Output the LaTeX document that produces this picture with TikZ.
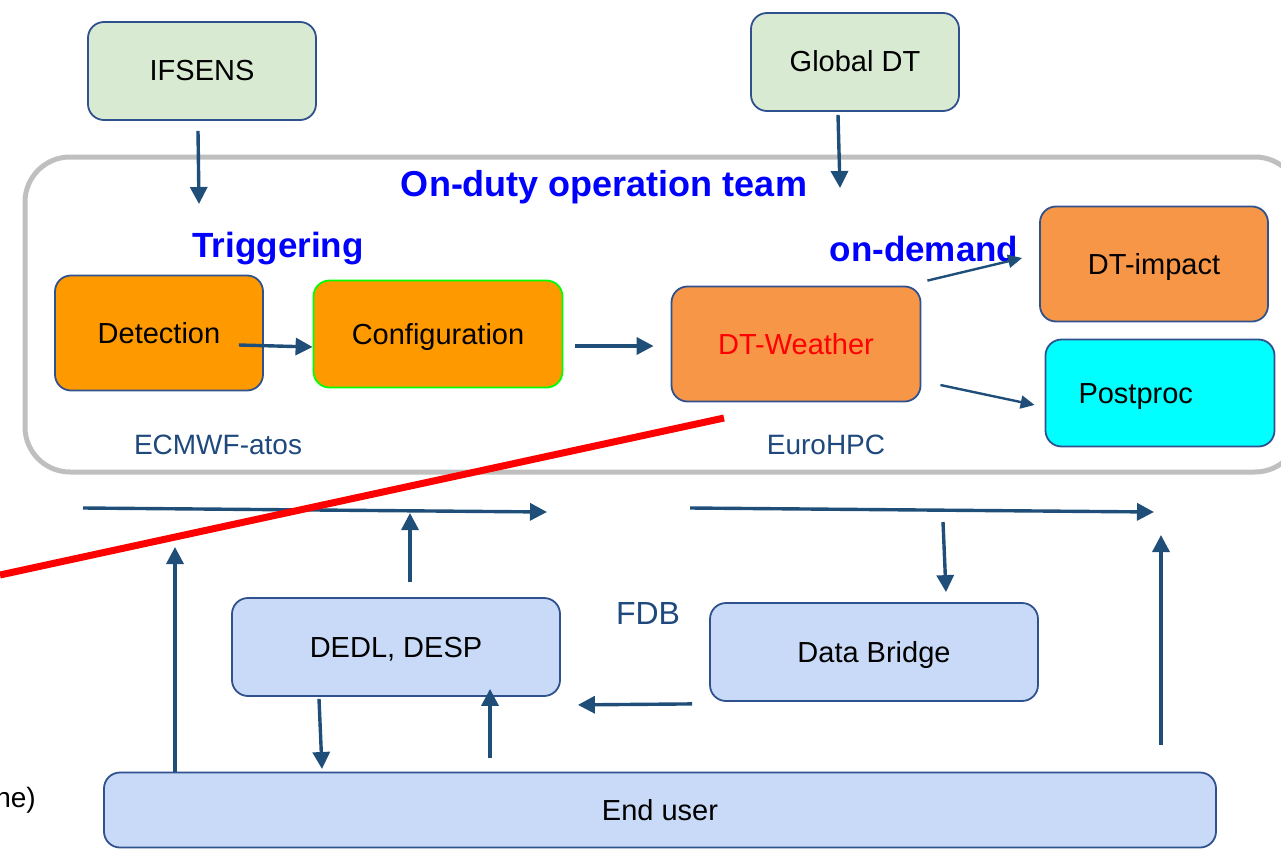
\documentclass[tikz,border=0pt]{standalone}
\usepackage{fontspec}
\setmainfont{Liberation Sans}
\usetikzlibrary{arrows.meta}

\definecolor{boxline}{HTML}{2F528F}
\definecolor{arrowblue}{HTML}{1F4E79}
\definecolor{sitetext}{HTML}{1F497D}
\definecolor{titleblue}{HTML}{0000FF}
\definecolor{framegray}{HTML}{BFBFBF}
\definecolor{srcgreen}{HTML}{D9EAD3}
\definecolor{trigorange}{HTML}{FF9900}
\definecolor{hpcorange}{HTML}{F79646}
\definecolor{ppcyan}{HTML}{00FFFF}
\definecolor{cfggreen}{HTML}{00FF00}
\definecolor{userblue}{HTML}{C9DAF8}

\begin{document}
\begin{tikzpicture}[x=1pt, y=-1pt,
    blk/.style={rectangle, draw=boxline, line width=1.8pt, rounded corners=16pt,
      inner sep=0pt, text height=20pt, text depth=0pt, font=\fontsize{29}{33}\selectfont},
    flow/.style={draw=arrowblue, line width=3.4pt, -{Triangle[length=17pt,width=17pt]}},
    thinflow/.style={draw=arrowblue, line width=2.4pt, -{Triangle[length=14pt,width=13pt]}},
    title/.style={text=titleblue, font=\bfseries\fontsize{35}{40}\selectfont},
    site/.style={text=sitetext, font=\fontsize{28}{32}\selectfont}]
  \useasboundingbox (0,0) rectangle (1281,848);
  \clip (0,0) rectangle (1281,848);

  % operation team frame
  \draw[framegray, line width=5pt, rounded corners=45pt] (25,157) rectangle (1300,472);

  % sources
  \node[blk, fill=srcgreen, minimum width=228pt, minimum height=98pt] (ifs) at (202,71) {IFSENS};
  \node[blk, fill=srcgreen, minimum width=208pt, minimum height=98pt] (gdt) at (855,62) {Global DT};

  % labels
  \node[title, font=\bfseries\fontsize{36}{40}\selectfont] (team) at (604,187) {On-duty operation team};
  \node[title] (trig) at (278,249) {Triggering};
  \node[title] (odem) at (924,249) {on-demand};
  \node[site] (atos) at (218,445) {ECMWF-atos};
  \node[site] (hpc) at (826,445) {EuroHPC};
  \node[site, font=\fontsize{32}{36}\selectfont] (fdb) at (648,613) {FDB};
  \node[anchor=east, inner sep=0pt, font=\fontsize{28}{32}\selectfont] (tail) at (36,800) {ne)};

  % workflow
  \node[blk, fill=trigorange, minimum width=208pt, minimum height=115pt] (det) at (159,333) {Detection};
  \node[blk, fill=trigorange, draw=cfggreen, minimum width=249pt, minimum height=107pt] (conf) at (438,334) {Configuration};
  \node[blk, fill=hpcorange, text=red, minimum width=249pt, minimum height=115pt] (dtw) at (796,344) {DT-Weather};
  \node[blk, fill=hpcorange, minimum width=228pt, minimum height=115pt] (dti) at (1154,264) {DT-impact};
  \node[blk, fill=ppcyan, minimum width=229pt, minimum height=107pt,
    text width=163pt, align=left] (pp) at (1160,393) {Postproc};

  % data side
  \node[blk, fill=userblue, minimum width=328pt, minimum height=98pt] (dedl) at (396,647) {DEDL, DESP};
  \node[blk, fill=userblue, minimum width=328pt, minimum height=98pt] (db) at (874,652) {Data Bridge};
  \node[blk, fill=userblue, minimum width=1112pt, minimum height=75pt] (eu) at (660,810) {End user};

  \coordinate (ifsin) at (199,204);
  \coordinate (gdtin) at (840,188);
  \coordinate (busL) at (83,508);
  \coordinate (busLend) at (547,512);
  \coordinate (busR) at (690,508);
  \coordinate (busRend) at (1154,512);
  \coordinate (upA) at (175,547);
  \coordinate (upB) at (410,513);
  \coordinate (upC) at (1161,535);
  \coordinate (euin) at (322,769);

  \draw[flow] ([xshift=-4pt, yshift=-10pt]ifs.south) -- (ifsin);
  \draw[flow] ([xshift=-17pt, yshift=-3pt]gdt.south) -- (gdtin);
  \draw[flow] ([xshift=-25pt, yshift=-12pt]det.east) -- ([yshift=-13pt]conf.west);
  \draw[flow, shorten <=12pt, shorten >=17pt] ([yshift=-12pt]conf.east) -- ([yshift=-2pt]dtw.west);
  \draw[thinflow] ([xshift=6pt, yshift=5pt]dtw.north east) -- ([xshift=-17pt, yshift=6pt]dti.west);
  \draw[thinflow] ([xshift=19pt, yshift=-41pt]dtw.east) -- ([xshift=-10pt, yshift=-12pt]pp.west);

  \draw[flow] (busL) -- (busLend);
  \draw[flow] (busR) -- (busRend);
  \draw[flow] (eu.north -| upA) -- (upA);
  \draw[flow] ([xshift=14pt, yshift=15pt]dedl.north) -- (upB);
  \draw[flow] ([xshift=-77pt, yshift=-2pt]dedl.south) -- (euin);
  \draw[flow] ([xshift=-170pt, yshift=14pt]eu.north) -- ([xshift=94pt, yshift=8pt]dedl.south);
  \draw[flow] ([xshift=69pt, yshift=-14pt]db.north |- busR) -- ([xshift=72pt, yshift=10pt]db.north);
  \draw[flow] ([xshift=-17pt, yshift=-2pt]db.south west) -- ([xshift=17pt, yshift=-8pt]dedl.south east);
  \draw[flow] ([yshift=27pt]eu.north -| upC) -- (upC);

  % crossing-out stroke
  \draw[red, line width=7pt] (0,575) -- (724,418);
\end{tikzpicture}
\end{document}
